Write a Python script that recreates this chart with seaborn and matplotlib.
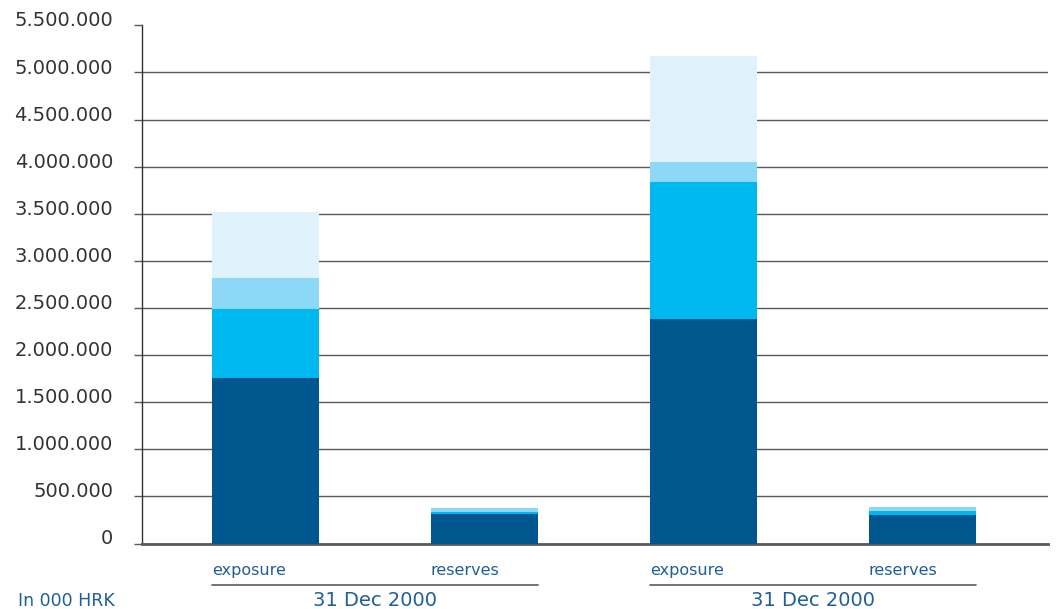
import matplotlib
matplotlib.use("Agg")
import matplotlib.pyplot as plt
import matplotlib.transforms as mtransforms
import seaborn as sns
import pandas as pd
import numpy as np

# Values in thousand HRK, one entry per bar
bar_keys = ["exp_a", "res_a", "exp_b", "res_b"]
bar_labels = ["exposure", "reserves", "exposure", "reserves"]
group_labels = ["31 Dec 2000", "31 Dec 2000"]

seg_dark = [1757000, 313000, 2383000, 303000]
seg_cyan = [732000, 21000, 1455000, 45000]
seg_light = [329000, 43000, 215000, 39000]
seg_pale = [701000, 0, 1122000, 0]

y_ticks = [0, 500000, 1000000, 1500000, 2000000, 2500000, 3000000,
           3500000, 4000000, 4500000, 5000000, 5500000]

col_dark = "#00568F"
col_cyan = "#00B8F0"
col_light = "#8DD7F7"
col_pale = "#E0F2FB"
text_blue = "#1F5E98"
grid_col = "#5A5A5A"

sns.set_theme(style="white")
plt.rcParams["font.family"] = ["DejaVu Sans"]

df = pd.DataFrame({"key": bar_keys})
df["t_dark"] = np.array(seg_dark)
df["t_cyan"] = df["t_dark"] + np.array(seg_cyan)
df["t_light"] = df["t_cyan"] + np.array(seg_light)
df["t_pale"] = df["t_light"] + np.array(seg_pale)

fig = plt.figure(figsize=(10.58, 6.09), dpi=100)
ax = fig.add_axes([142 / 1058, (609 - 543.5) / 609,
                   (1047.7 - 142) / 1058, (543.5 - 25.4) / 609])

bar_w = 107 / 219
for col, c in [("t_pale", col_pale), ("t_light", col_light),
               ("t_cyan", col_cyan), ("t_dark", col_dark)]:
    sns.barplot(data=df, x="key", y=col, order=bar_keys, color=c,
                saturation=1, width=bar_w, errorbar=None, linewidth=0,
                ax=ax, zorder=3)

ax.set_xlim(-0.564, 3.572)
ax.set_ylim(0, 5500000)
ax.set_yticks(y_ticks)
ax.set_yticklabels([f"{v:,}".replace(",", ".") for v in y_ticks])
ax.set_xticks([])
ax.set_xlabel("")
ax.set_ylabel("")

ax.yaxis.grid(True, color=grid_col, linewidth=1.0)
ax.get_ygridlines()[-1].set_visible(False)
ax.set_axisbelow(True)

for s in ["top", "right"]:
    ax.spines[s].set_visible(False)
ax.spines["left"].set_color("#333333")
ax.spines["left"].set_linewidth(1.0)
ax.spines["bottom"].set_color(grid_col)
ax.spines["bottom"].set_linewidth(2.0)

ax.tick_params(axis="y", which="major", left=True, length=5.8, width=1.0,
               color=grid_col, pad=15, labelsize=14, labelcolor="#333333")
# tick labels sit on their gridline, nudged one pixel down
shift = mtransforms.ScaledTranslation(0, -1 / 100, fig.dpi_scale_trans)
for lbl in ax.get_yticklabels():
    lbl.set_va("baseline")
    lbl.set_transform(lbl.get_transform() + shift)

trans = mtransforms.blended_transform_factory(ax.transData, ax.transAxes)
ax_h = 543.5 - 25.4
for i, name in enumerate(bar_labels):
    ax.text(i - bar_w / 2, -(575 - 543.5) / ax_h, name, transform=trans,
            ha="left", va="baseline", fontsize=11.5, color=text_blue)

line_y = -(585 - 543.5) / ax_h
for g, name in enumerate(group_labels):
    x0 = 2 * g - bar_w / 2
    x1 = 2 * g + 1 + bar_w / 2
    ax.plot([x0, x1], [line_y, line_y], transform=trans, color=grid_col,
            linewidth=1.2, clip_on=False)
    ax.text((x0 + x1) / 2, -(605.5 - 543.5) / ax_h, name, transform=trans,
            ha="center", va="baseline", fontsize=14, color=text_blue)

fig.text(18 / 1058, 1 - 605.5 / 609, "In 000 HRK", ha="left", va="baseline",
         fontsize=12.5, color=text_blue)

fig.savefig("out.png", dpi=100)
